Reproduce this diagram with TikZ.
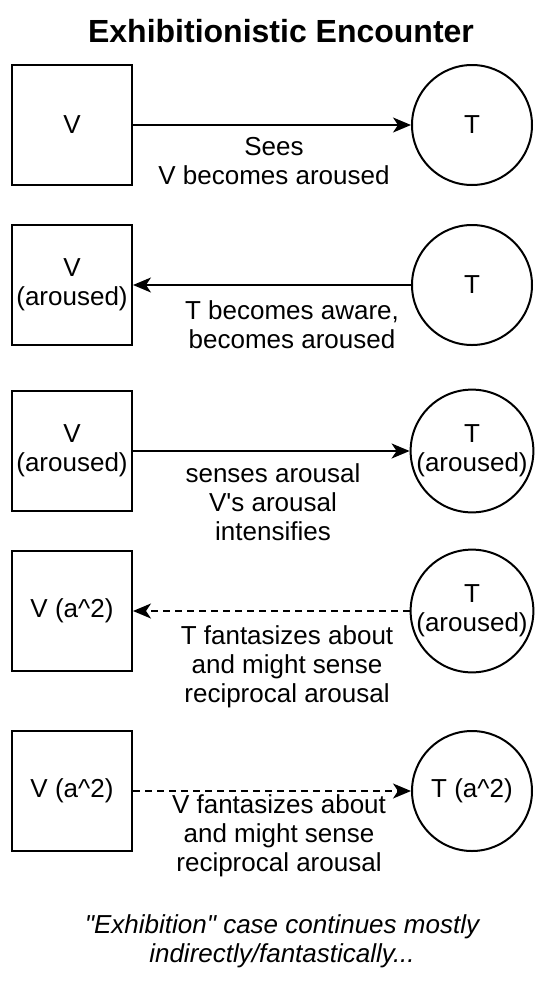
\documentclass[tikz,border=0pt]{standalone}
\usepackage{fontspec}
\setmainfont{Liberation Sans}[Ligatures=TeXOff]
\usetikzlibrary{arrows.meta}
\begin{document}
\begin{tikzpicture}
  [x=1pt,y=-1pt,line width=2pt,
   every node/.style={font=\fontsize{26}{29}\selectfont,align=center,inner sep=0pt},
   sq/.style={draw,minimum width=120pt,minimum height=120pt},
   crc/.style={draw,circle,minimum size=120pt},
   arr/.style={-{Stealth[length=18pt,width=15pt,inset=5pt]}},
   dsh/.style={arr,dash pattern=on 7pt off 5pt}]
  \useasboundingbox (0,0) rectangle (544,994);
  \node (title) at (281,31) {\fontsize{32}{38}\selectfont\bfseries Exhibitionistic Encounter};
  \node[sq] (v1) at (72,125) {V};
  \node[sq] (v2) at (72,285) {V\\(aroused)};
  \node[sq] (v3) at (72,451) {V\\(aroused)};
  \node[sq] (v4) at (72,611) {V (a\string^2)};
  \node[sq] (v5) at (72,791) {V (a\string^2)};
  \node[crc] (t1) at (472,125) {T};
  \node[crc] (t2) at (472,285) {T};
  \node[crc] (t3) at (472,451) {T\\(aroused)};
  \node[crc] (t4) at (472,611) {T\\(aroused)};
  \node[crc] (t5) at (472,791) {T (a\string^2)};
  \node (l1) at (274,161) {Sees\\V becomes aroused};
  \node (l2) at (292,325) {T becomes aware,\\becomes aroused};
  \node (l3) at (273,502) {senses arousal\\V's arousal\\intensifies};
  \node (l4) at (287,667) {T fantasizes about\\and might sense\\reciprocal arousal};
  \node (l5) at (279,836) {V fantasizes about\\and might sense\\reciprocal arousal};
  \node (note) at (282,941) {\itshape "Exhibition" case continues mostly\\\itshape indirectly/fantastically...};
  \foreach \from/\to in {v1/t1,t2/v2,v3/t3}
    \draw[arr] (\from) -- (\to);
  \foreach \from/\to in {t4/v4,v5/t5}
    \draw[dsh] (\from) -- (\to);
\end{tikzpicture}
\end{document}
